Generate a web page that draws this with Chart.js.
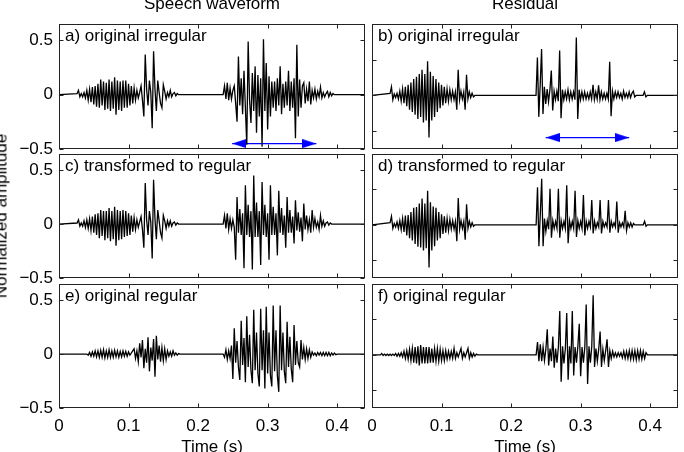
<!DOCTYPE html>
<html>
<head>
<meta charset="utf-8">
<script src="https://cdn.jsdelivr.net/npm/chart.js@4.4.0/dist/chart.umd.min.js"></script>
<style>
  html, body { margin: 0; padding: 0; background: #fff; }
  #page { position: relative; width: 684px; height: 452px; overflow: hidden; }
  #page canvas { position: absolute; left: 0; top: 0; }
  .txt { position: absolute; font: 17px "Liberation Sans", Arial, sans-serif; line-height: 17px; white-space: nowrap; color: #000; }
</style>
</head>
<body>
<div id="page">
  <canvas id="pa" width="684" height="452"></canvas>
  <canvas id="pb" width="684" height="452"></canvas>
  <canvas id="pc" width="684" height="452"></canvas>
  <canvas id="pd" width="684" height="452"></canvas>
  <canvas id="pe" width="684" height="452"></canvas>
  <canvas id="pf" width="684" height="452"></canvas>

  <div class="txt" style="left:212px;top:-5px;transform:translateX(-50%)">Speech waveform</div>
  <div class="txt" style="left:525px;top:-5px;transform:translateX(-50%)">Residual</div>
  <div class="txt" style="left:1px;top:216px;transform:translate(-50%,-50%) rotate(-90deg)">Normalized amplitude</div>

  <div class="txt" style="left:65px;top:27px">a) original irregular</div>
  <div class="txt" style="left:378px;top:27px">b) original irregular</div>
  <div class="txt" style="left:65px;top:157px">c) transformed to regular</div>
  <div class="txt" style="left:378px;top:157px">d) transformed to regular</div>
  <div class="txt" style="left:65px;top:287px">e) original regular</div>
  <div class="txt" style="left:378px;top:287px">f) original regular</div>

  <div class="txt" style="left:212px;top:438px;transform:translateX(-50%)">Time (s)</div>
  <div class="txt" style="left:525px;top:438px;transform:translateX(-50%)">Time (s)</div>
</div>

<script>
// sampling of the traced waveforms (s)
const SAMPLE_STEP = 0.002;
const T_MAX = 0.44;

const xTickValues = [0, 0.1, 0.2, 0.3, 0.4];
const xTickLabels = ['0', '0.1', '0.2', '0.3', '0.4'];
const yTickValues = [-0.5, 0, 0.5];
const yTickLabels = ['\u22120.5', '0', '0.5'];

// speech waveform panels (left column)
const waveA1 = [0.01, 0.04, -0.02, 0.01, -0.02, 0.02, -0.03, 0.04, -0.05, 0.05, -0.07, 0.07, -0.09, 0.08, -0.11, 0.1, -0.12, 0.14, -0.1, 0.12, -0.14, 0.11, -0.13, 0.14, -0.15, 0.12, -0.13, 0.16, -0.185, 0.13, -0.14, 0.12, -0.15, 0.13, -0.12, 0.13, -0.12, 0.1, -0.1, 0.08, -0.08, 0.06, -0.05, 0.04, -0.03, 0.02, 0.08, -0.05, -0.2, 0.37, 0.05, -0.1, 0.13, 0.02, -0.31, 0.4, 0.05, -0.15, 0.13, 0.02, -0.08, -0.12, 0.09, 0.03, -0.04, 0.02, -0.02, 0.04, -0.02, 0.01, 0.02, -0.01, 0.01, 0];
const waveA2 = [0, 0.08, -0.04, 0.11, -0.05, 0.06, -0.04, 0.04, 0.08, -0.08, -0.25, 0.35, -0.1, 0.15, -0.18, 0.22, -0.12, -0.46, 0.49, -0.05, -0.26, 0.2, -0.15, 0.26, -0.35, 0.18, -0.2, 0.15, -0.48, 0.51, -0.15, 0.29, -0.32, 0.17, -0.2, 0.12, -0.12, 0.12, -0.15, 0.15, -0.1, 0.26, -0.18, 0.1, -0.12, 0.12, -0.1, 0.22, -0.15, 0.12, -0.12, 0.15, -0.4, 0.46, -0.2, 0.14, -0.12, 0.08, 0.11, -0.08, 0.05, -0.06, 0.12, -0.09, 0.04, -0.03, 0.05, -0.04, 0.03, -0.02, 0.07, -0.03, 0.02, -0.02, 0.01, 0.03, -0.02, 0.02, -0.01, 0.01, 0];
const waveC1 = [0.01, 0.04, -0.02, 0.01, -0.02, 0.03, -0.03, 0.04, -0.04, 0.05, -0.06, 0.07, -0.08, 0.09, -0.1, 0.1, -0.13, 0.13, -0.11, 0.12, -0.15, 0.12, -0.13, 0.15, -0.16, 0.12, -0.14, 0.16, -0.2, 0.13, -0.15, 0.12, -0.14, 0.13, -0.12, 0.12, -0.11, 0.1, -0.1, 0.08, -0.07, 0.06, -0.05, 0.04, -0.03, 0.02, 0.07, -0.05, -0.22, 0.38, 0.04, -0.1, 0.12, 0.02, -0.32, 0.41, 0.05, -0.14, 0.13, 0.03, -0.08, -0.13, 0.08, 0.03, -0.04, 0.03, -0.02, 0.03, -0.02, 0.01, 0.02, -0.01, 0.01, 0];
const waveC2 = [0, 0.08, -0.04, 0.1, -0.05, 0.05, -0.04, 0.04, -0.03, -0.33, 0.25, -0.08, 0.14, -0.1, 0.1, -0.41, 0.36, -0.1, 0.18, -0.12, 0.12, -0.42, 0.45, -0.12, 0.2, -0.12, 0.12, -0.38, 0.39, -0.1, 0.18, -0.12, 0.1, -0.33, 0.36, -0.1, 0.16, -0.1, 0.1, -0.29, 0.31, -0.08, 0.15, -0.1, 0.08, -0.22, 0.25, -0.08, 0.13, -0.08, 0.07, -0.18, 0.22, -0.06, 0.11, -0.07, 0.06, -0.16, 0.19, -0.05, 0.08, -0.05, 0.04, -0.08, 0.13, -0.03, 0.05, -0.03, 0.02, -0.05, 0.08, -0.02, 0.03, -0.02, 0.01, 0.02, -0.01, 0.01, 0];
const waveE1 = [0, -0.01, 0.015, -0.02, 0.02, -0.02, 0.03, -0.025, 0.03, -0.03, 0.035, -0.03, 0.04, -0.035, 0.03, -0.03, 0.04, -0.03, 0.03, -0.03, 0.035, -0.025, 0.03, -0.03, 0.025, -0.025, 0.03, -0.02, 0.025, -0.02, 0.02, -0.01, 0.01, 0.03, 0.05, -0.04, 0.03, -0.07, 0.1, -0.03, 0.13, -0.13, 0.05, -0.08, 0.155, -0.16, 0.06, -0.06, 0.14, -0.21, 0.17, -0.05, 0.08, -0.07, 0.06, -0.06, 0.05, -0.05, 0.03, -0.02, 0.02, -0.02, 0.03, -0.01, 0.01, -0.01, 0.005, 0];
const waveE2 = [0, -0.03, 0.04, -0.05, 0.03, -0.04, 0.08, -0.23, 0.24, -0.08, 0.12, -0.12, -0.24, 0.31, -0.1, 0.15, -0.26, 0.35, -0.12, 0.18, -0.15, -0.27, 0.41, -0.15, 0.2, -0.18, -0.3, 0.42, -0.15, 0.22, -0.32, 0.44, -0.18, 0.2, -0.2, -0.3, 0.45, -0.16, 0.22, -0.2, -0.35, 0.45, -0.15, 0.2, -0.16, -0.27, 0.3, -0.12, 0.16, -0.14, -0.26, 0.27, -0.1, 0.12, -0.08, -0.12, 0.13, -0.05, 0.06, -0.05, 0.05, -0.04, 0.04, -0.03, 0.02, -0.01, 0.01, -0.015, 0.015, -0.01, 0.015, -0.015, 0.015, -0.015, 0.015, -0.015, 0.015, -0.015, 0.01, -0.01, 0.01, -0.005, 0];

// residual panels (right column, own amplitude scale)
const waveB1 = [0.03, 0.12, -0.06, 0.02, -0.03, 0.03, -0.05, 0.06, -0.08, 0.09, -0.11, 0.12, -0.15, 0.15, -0.2, 0.18, -0.23, 0.23, -0.27, 0.26, -0.33, 0.3, -0.3, 0.36, -0.38, 0.3, -0.35, 0.48, -0.59, 0.33, -0.35, 0.27, -0.3, 0.23, -0.23, 0.18, -0.18, 0.15, -0.14, 0.12, -0.11, 0.09, -0.08, 0.08, -0.06, 0.06, -0.06, 0.05, -0.2, 0.36, -0.06, 0.06, -0.05, 0.05, -0.2, 0.29, -0.05, 0.05, -0.03, 0.03, -0.02, 0];
const waveB2 = [0, 0.53, -0.3, 0.15, 0.65, -0.26, 0.12, -0.12, 0.09, -0.09, 0.08, 0.35, -0.21, 0.06, -0.06, 0.06, -0.08, 0.63, -0.32, 0.08, -0.06, 0.05, -0.05, 0.08, -0.06, 0.05, -0.05, 0.05, -0.06, 0.81, -0.33, 0.08, -0.06, 0.05, -0.05, 0.05, -0.05, 0.03, -0.05, 0.05, -0.05, 0.15, -0.06, 0.05, -0.05, 0.14, -0.06, 0.05, -0.05, 0.03, -0.05, 0.03, -0.05, 0.47, -0.29, 0.06, -0.05, 0.05, -0.03, 0.05, -0.03, 0.03, -0.05, 0.06, -0.03, 0.03, -0.03, 0.05, -0.03, 0.03, 0.06, -0.02, 0, 0, 0, 0, 0, 0, 0.05, -0.02, 0];
const waveD1 = [0.03, 0.12, -0.05, 0.02, -0.03, 0.04, -0.05, 0.06, -0.07, 0.09, -0.1, 0.13, -0.15, 0.14, -0.19, 0.18, -0.22, 0.24, -0.27, 0.25, -0.31, 0.3, -0.32, 0.37, -0.36, 0.3, -0.33, 0.48, -0.6, 0.32, -0.36, 0.26, -0.3, 0.24, -0.22, 0.18, -0.19, 0.15, -0.13, 0.12, -0.11, 0.09, -0.08, 0.08, -0.06, 0.06, -0.06, 0.05, -0.23, 0.38, -0.06, 0.06, -0.05, 0.05, -0.21, 0.29, -0.05, 0.05, -0.03, 0.03, -0.02, 0];
const waveD2 = [0, 0.53, -0.3, 0.15, 0.65, -0.3, 0.09, -0.09, 0.06, -0.06, 0.51, -0.18, 0.06, -0.05, 0.05, -0.05, 0.51, -0.18, 0.06, -0.05, 0.05, -0.05, 0.56, -0.26, 0.06, -0.05, 0.05, -0.05, 0.48, -0.17, 0.06, -0.05, 0.05, -0.05, 0.42, -0.15, 0.05, -0.05, 0.05, -0.03, 0.35, -0.12, 0.05, -0.05, 0.03, -0.03, 0.35, -0.12, 0.05, -0.03, 0.03, -0.03, 0.35, -0.11, 0.05, -0.03, 0.03, -0.03, 0.33, -0.11, 0.03, -0.03, 0.03, -0.03, 0.2, -0.08, 0.03, -0.03, 0.03, -0.03, 0.02, 0, 0, 0, 0, 0, 0, 0, 0.05, -0.02, 0];
const waveF1 = [0, 0.02, -0.01, 0.01, -0.01, 0.01, -0.01, 0.01, -0.01, 0.01, -0.01, 0.02, -0.02, 0.02, -0.02, 0.03, -0.03, 0.05, -0.05, 0.06, -0.06, 0.08, -0.08, 0.09, -0.11, 0.11, -0.12, 0.12, -0.15, 0.14, -0.12, 0.11, -0.12, 0.11, -0.12, 0.11, -0.11, 0.09, -0.11, 0.09, -0.09, 0.09, -0.09, 0.08, -0.08, 0.06, -0.08, 0.06, -0.06, 0.05, -0.05, 0.05, -0.05, 0.09, -0.05, 0.03, -0.03, 0.03, 0.09, -0.05, 0.03, -0.03, 0.03, 0.09, -0.05, 0.03, -0.03, 0.02, -0.02, 0.01, 0];
const waveF2 = [0, 0.18, -0.09, 0.15, -0.09, 0.11, -0.08, 0.08, 0.36, -0.15, 0.09, -0.09, 0.26, -0.18, 0.09, -0.11, 0.11, 0.62, -0.38, 0.12, -0.12, 0.09, 0.59, -0.35, 0.12, -0.12, 0.62, -0.29, 0.11, -0.11, 0.12, 0.44, -0.3, 0.11, -0.11, 0.11, 0.71, -0.41, 0.12, -0.11, 0.12, 0.84, -0.17, 0.09, -0.09, 0.08, 0.33, -0.17, 0.08, -0.08, 0.06, 0.22, -0.17, 0.06, -0.05, 0.05, -0.03, 0.03, -0.03, 0.03, -0.02, 0.03, -0.04, 0.05, -0.05, 0.05, -0.05, 0.06, -0.06, 0.06, -0.06, 0.06, -0.07, 0.06, -0.06, 0.06, -0.06, 0.05, -0.05, 0.03, 0];

// start time of each traced segment
const segStartA = [0.026, 0.236];
const segStartB = [0.026, 0.236];
const segStartC = [0.026, 0.236];
const segStartD = [0.026, 0.236];
const segStartE = [0.040, 0.236];
const segStartF = [0.012, 0.236];

// blue double arrows (start/end time, amplitude)
const arrowTimesA = [0.249, 0.370];
const arrowLevelA = -0.45;
const arrowTimesB = [0.250, 0.370];
const arrowLevelB = -0.59;

// layout of the six axes boxes (px)
const COL_LEFT = [59, 372];
const COL_RIGHT = [365, 678];
const ROW_TOP = [24, 154, 284];
const ROW_BOTTOM = [149, 278, 408];
const Y_AXIS_W = 50;
const X_AXIS_H = 30;
const TICK_LEN = 4;
const FRAME_COLOR = '#222';
const ARROW_COLOR = '#0000ff';

Chart.defaults.font.family = '"Liberation Sans", Arial, sans-serif';
Chart.defaults.font.size = 17;
Chart.defaults.color = '#000';

function wavePoints(starts, segments) {
  var pts = [{x: 0, y: 0}];
  segments.forEach(function (vals, s) {
    vals.forEach(function (v, i) {
      pts.push({x: starts[s] + i * SAMPLE_STEP, y: v});
    });
  });
  pts.push({x: T_MAX, y: 0});
  return pts;
}

function arrowHeadImage() {
  var c = document.createElement('canvas');
  c.width = 28;
  c.height = 9;
  var g = c.getContext('2d');
  g.fillStyle = ARROW_COLOR;
  g.beginPath();
  g.moveTo(14, 4.5);
  g.lineTo(0, 0);
  g.lineTo(0, 9);
  g.closePath();
  g.fill();
  return c;
}

// box with inward ticks on all four sides
const framePlugin = {
  id: 'frame',
  afterDatasetsDraw: function (chart) {
    var ctx = chart.ctx, a = chart.chartArea;
    var xs = chart.scales.x, ys = chart.scales.y;
    var l = Math.round(a.left) + 0.5, r = Math.round(a.right) - 0.5;
    var t = Math.round(a.top) + 0.5, b = Math.round(a.bottom) - 0.5;
    ctx.save();
    ctx.strokeStyle = FRAME_COLOR;
    ctx.lineWidth = 1;
    ctx.beginPath();
    xTickValues.forEach(function (v) {
      var px = Math.round(xs.getPixelForValue(v)) + 0.5;
      ctx.moveTo(px, b); ctx.lineTo(px, b - TICK_LEN);
      ctx.moveTo(px, t); ctx.lineTo(px, t + TICK_LEN);
    });
    yTickValues.forEach(function (v) {
      var py = Math.round(ys.getPixelForValue(v)) + 0.5;
      ctx.moveTo(l, py); ctx.lineTo(l + TICK_LEN, py);
      ctx.moveTo(r, py); ctx.lineTo(r - TICK_LEN, py);
    });
    ctx.stroke();
    ctx.strokeRect(l, t, r - l, b - t);
    ctx.restore();
  }
};

function makePanel(id, col, row, yMin, yMax, points, arrowTimes, arrowLevel) {
  var showY = col === 0;
  var showX = row === 2;
  var datasets = [{
    data: points,
    borderColor: '#000',
    borderWidth: 1.3,
    pointRadius: 0,
    tension: 0,
    fill: false
  }];
  if (arrowTimes) {
    datasets.push({
      data: arrowTimes.map(function (t) { return {x: t, y: arrowLevel}; }),
      borderColor: ARROW_COLOR,
      borderWidth: 1.2,
      pointRadius: 5,
      pointStyle: arrowHeadImage(),
      pointRotation: [180, 0],
      tension: 0,
      fill: false
    });
  }
  return new Chart(document.getElementById(id), {
    type: 'line',
    data: { datasets: datasets },
    options: {
      responsive: false,
      animation: false,
      events: [],
      parsing: false,
      layout: {
        padding: {
          left: COL_LEFT[col] - Y_AXIS_W,
          right: 684 - COL_RIGHT[col],
          top: ROW_TOP[row],
          bottom: 452 - ROW_BOTTOM[row] - X_AXIS_H
        }
      },
      plugins: { legend: { display: false }, tooltip: { enabled: false } },
      scales: {
        x: {
          type: 'linear', min: 0, max: T_MAX,
          grid: { display: false, drawTicks: false },
          border: { display: false },
          afterBuildTicks: function (s) { s.ticks = xTickValues.map(function (v) { return {value: v}; }); },
          afterFit: function (s) { s.height = X_AXIS_H; },
          ticks: {
            display: showX, autoSkip: false, maxRotation: 0, padding: 8,
            callback: function (v) { return xTickLabels[xTickValues.indexOf(v)]; }
          }
        },
        y: {
          type: 'linear', min: yMin, max: yMax,
          grid: { display: false, drawTicks: false },
          border: { display: false },
          afterBuildTicks: function (s) { s.ticks = yTickValues.map(function (v) { return {value: v}; }); },
          afterFit: function (s) { s.width = Y_AXIS_W; },
          ticks: {
            display: showY, autoSkip: false, padding: 6,
            callback: function (v) { return yTickLabels[yTickValues.indexOf(v)]; }
          }
        }
      }
    },
    plugins: [framePlugin]
  });
}

makePanel('pa', 0, 0, -0.5, 0.65, wavePoints(segStartA, [waveA1, waveA2]), arrowTimesA, arrowLevelA);
makePanel('pc', 0, 1, -0.5, 0.65, wavePoints(segStartC, [waveC1, waveC2]));
makePanel('pe', 0, 2, -0.5, 0.65, wavePoints(segStartE, [waveE1, waveE2]));
makePanel('pb', 1, 0, -0.75, 1.0, wavePoints(segStartB, [waveB1, waveB2]), arrowTimesB, arrowLevelB);
makePanel('pd', 1, 1, -0.75, 1.0, wavePoints(segStartD, [waveD1, waveD2]));
makePanel('pf', 1, 2, -0.75, 1.0, wavePoints(segStartF, [waveF1, waveF2]));
</script>
</body>
</html>
